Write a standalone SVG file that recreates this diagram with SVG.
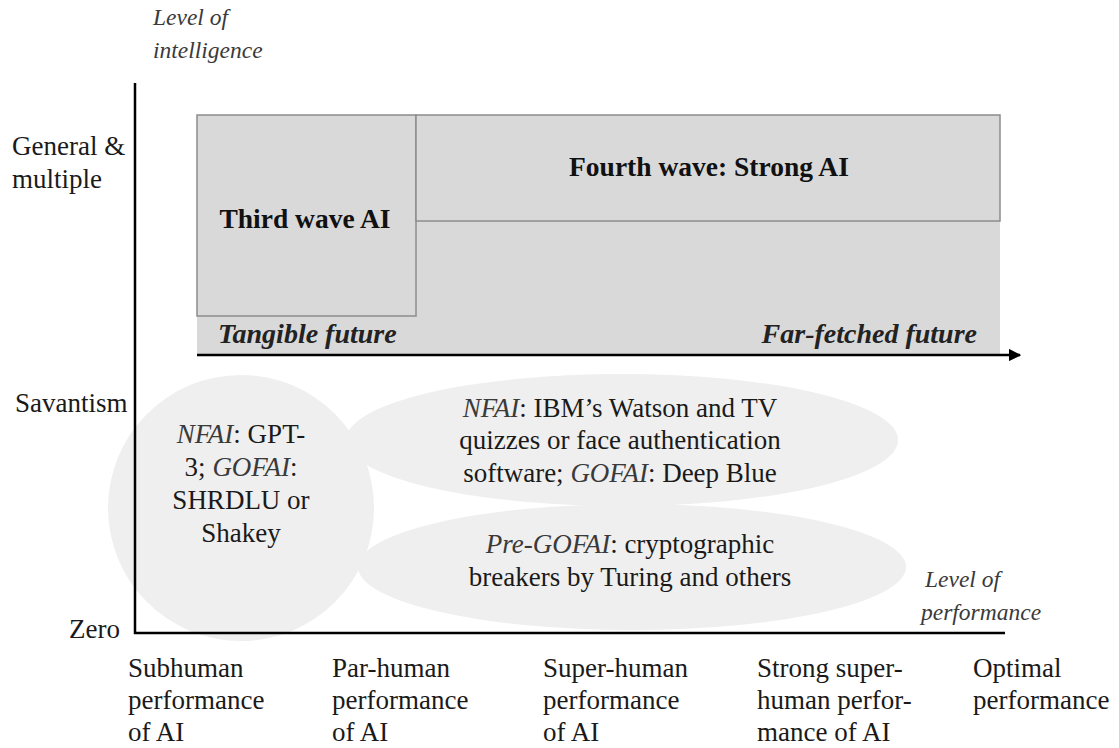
<svg xmlns="http://www.w3.org/2000/svg" width="1119" height="748" viewBox="0 0 1119 748">
  <style>
    text { font-family: "Liberation Serif", "Times New Roman", serif; fill: #1a1a1a; font-size: 27px; }
    .it { font-style: italic; fill: #3a3a3a; }
    .axt { font-size: 23.5px; }
    .mid { text-anchor: middle; }
    .bold { font-weight: bold; fill: #111; font-size: 27.5px; }
    .fut { font-style: italic; font-weight: bold; fill: #222; font-size: 28px; }
    .box { fill: #d9d9d9; stroke: #8c8c8c; stroke-width: 1.5; }
    .blob { fill: #efefef; }
    .axis { stroke: #000; stroke-width: 2.5; fill: none; }
  </style>
  <defs>
    <marker id="arrowhead" viewBox="0 0 10 10" refX="9" refY="5" markerWidth="5" markerHeight="5" orient="auto">
      <path d="M0,0 L10,5 L0,10 Z" fill="#000"/>
    </marker>
  </defs>

  <rect width="1119" height="748" fill="#fff"/>

  <!-- background ellipses for current systems -->
  <g id="subhuman-zone">
    <ellipse class="blob" cx="241" cy="508" rx="133" ry="133"/>
    <text class="mid" x="241" y="443"><tspan class="it">NFAI</tspan>: GPT-</text>
    <text class="mid" x="241" y="476">3; <tspan class="it">GOFAI</tspan>:</text>
    <text class="mid" x="241" y="509">SHRDLU or</text>
    <text class="mid" x="241" y="542">Shakey</text>
  </g>
  <g id="superhuman-zone">
    <ellipse class="blob" cx="622" cy="440" rx="276" ry="66"/>
    <text class="mid" x="620" y="417"><tspan class="it">NFAI</tspan>: IBM’s Watson and TV</text>
    <text class="mid" x="620" y="449">quizzes or face authentication</text>
    <text class="mid" x="620" y="482">software; <tspan class="it">GOFAI</tspan>: Deep Blue</text>
  </g>
  <g id="pre-gofai-zone">
    <ellipse class="blob" cx="632" cy="567" rx="274" ry="63"/>
    <text class="mid" x="630" y="553"><tspan class="it">Pre-GOFAI</tspan>: cryptographic</text>
    <text class="mid" x="630" y="586">breakers by Turing and others</text>
  </g>

  <!-- future area -->
  <g id="future-area">
    <rect x="197" y="115" width="803" height="240" fill="#d9d9d9"/>
    <text class="fut" x="218" y="343">Tangible future</text>
    <text class="fut" x="977" y="343" text-anchor="end">Far-fetched future</text>
  </g>
  <g id="third-wave">
    <rect class="box" x="197" y="115" width="219" height="201"/>
    <text class="bold mid" x="305" y="228">Third wave AI</text>
  </g>
  <g id="fourth-wave">
    <rect class="box" x="416" y="115" width="584" height="106"/>
    <text class="bold mid" x="709" y="176">Fourth wave: Strong AI</text>
  </g>

  <!-- axes and timeline arrow -->
  <g id="connectors">
    <line class="axis" x1="135" y1="83" x2="135" y2="634"/>
    <line class="axis" x1="134" y1="633" x2="1005" y2="633"/>
    <line class="axis" x1="197" y1="355" x2="1020" y2="355" marker-end="url(#arrowhead)"/>
  </g>

  <!-- axis titles and scale labels -->
  <g id="y-axis-labels">
    <text class="it axt" x="153" y="25">Level of</text>
    <text class="it axt" x="153" y="58">intelligence</text>
    <text x="12" y="155">General &amp;</text>
    <text x="12" y="188">multiple</text>
    <text x="15" y="412">Savantism</text>
    <text x="69" y="638">Zero</text>
  </g>
  <g id="x-axis-labels">
    <text class="it axt" x="925" y="587">Level of</text>
    <text class="it axt" x="921" y="620">performance</text>
    <text x="128" y="677">Subhuman</text>
    <text x="128" y="709">performance</text>
    <text x="128" y="741">of AI</text>
    <text x="332" y="677">Par-human</text>
    <text x="332" y="709">performance</text>
    <text x="332" y="741">of AI</text>
    <text x="543" y="677">Super-human</text>
    <text x="543" y="709">performance</text>
    <text x="543" y="741">of AI</text>
    <text x="757" y="677">Strong super-</text>
    <text x="757" y="709">human perfor-</text>
    <text x="757" y="741">mance of AI</text>
    <text x="973" y="677">Optimal</text>
    <text x="973" y="709">performance</text>
  </g>
</svg>
